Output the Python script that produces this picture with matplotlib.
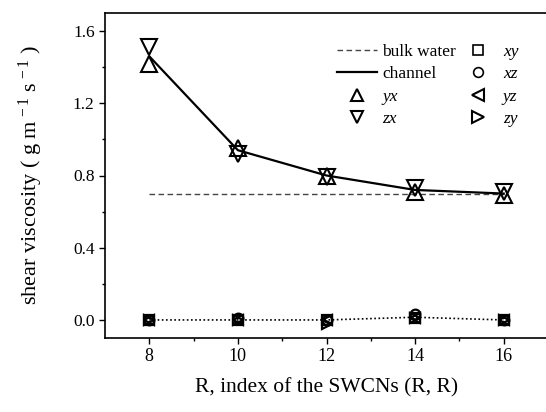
import matplotlib
matplotlib.use("Agg")
import matplotlib.pyplot as plt
from matplotlib.lines import Line2D

plt.rcParams['font.family'] = ['Liberation Serif', 'DejaVu Serif']
plt.rcParams['mathtext.fontset'] = 'custom'
plt.rcParams['mathtext.rm'] = 'Liberation Serif'
plt.rcParams['mathtext.it'] = 'Liberation Serif:italic'

R = [8, 10, 12, 14, 16]
channel = [1.46, 0.94, 0.80, 0.72, 0.70]
bulk_water = [0.70, 0.70, 0.70, 0.70, 0.70]
yx = [1.42, 0.95, 0.80, 0.71, 0.69]
zx = [1.51, 0.92, 0.79, 0.73, 0.71]
xy = [0.00, 0.00, 0.00, 0.01, 0.00]
xz = [0.00, 0.01, 0.00, 0.035, 0.00]
yz = [0.00, 0.00, 0.00, 0.01, 0.00]
zy = [0.00, 0.00, -0.025, 0.01, 0.00]
offdiag_mean = [0.00, 0.00, 0.00, 0.015, 0.00]

fig = plt.figure(figsize=(5.46, 4.12), dpi=100)
ax = fig.add_axes([105/546, 1-338/412, 443/546, 325/412])

ax.plot(R, bulk_water, ls=(0, (4, 2.5)), color='#444444', lw=1.0)
ax.plot(R, channel, ls='-', color='black', lw=1.6)
ax.plot(R, offdiag_mean, ls=(0, (1, 1.5)), color='black', lw=1.2)

big = dict(ls='none', mfc='none', mec='black', mew=1.5, ms=11)
small = dict(ls='none', mfc='none', mec='black', mew=1.6, ms=7)
ax.plot(R, yx, marker='^', **big)
ax.plot(R, zx, marker='v', **big)
ax.plot(R, xy, marker='s', **small)
ax.plot(R, xz, marker='o', **small)
ax.plot(R, yz, marker='<', **small)
ax.plot(R, zy, marker='>', **small)

ax.set_xlim(7, 17)
ax.set_ylim(-0.1, 1.7)
ax.set_xticks([8, 10, 12, 14, 16])
ax.set_xticks([9, 11, 13, 15], minor=True)
ax.set_yticks([0.0, 0.4, 0.8, 1.2, 1.6])
ax.set_yticklabels(['0.0', '0.4', '0.8', '1.2', '1.6'])
ax.set_yticks([0.2, 0.6, 1.0, 1.4], minor=True)
ax.tick_params(which='major', direction='out', length=4, width=1, labelsize=13)
ax.tick_params(axis='y', which='major', labelsize=12.5)
ax.tick_params(which='minor', direction='out', length=2.5, width=1)
for s in ax.spines.values():
    s.set_linewidth(1.2)

ax.set_xlabel('R, index of the SWCNs (R, R)', fontsize=15.5, labelpad=9)
ax.set_ylabel(r'shear viscosity ( g m$^{\mathregular{\,-1}}$ s$^{\mathregular{\,-1}}$ )',
              fontsize=16, labelpad=20)

handles = [
    Line2D([], [], ls=(0, (4, 2.5)), color='#444444', lw=1.0),
    Line2D([], [], ls='-', color='black', lw=1.6),
    Line2D([], [], marker='^', ls='none', mfc='none', mec='black', mew=1.5, ms=8),
    Line2D([], [], marker='v', ls='none', mfc='none', mec='black', mew=1.5, ms=8),
    Line2D([], [], marker='s', ls='none', mfc='none', mec='black', mew=1.2, ms=7),
    Line2D([], [], marker='o', ls='none', mfc='none', mec='black', mew=1.2, ms=7),
    Line2D([], [], marker='<', ls='none', mfc='none', mec='black', mew=1.5, ms=8),
    Line2D([], [], marker='>', ls='none', mfc='none', mec='black', mew=1.5, ms=8),
]
labels = ['bulk water', 'channel', 'yx', 'zx', 'xy', 'xz', 'yz', 'zy']
leg = ax.legend(handles, labels, ncol=2, loc='upper left',
                bbox_to_anchor=((337-105)/443, 1-(44-13)/325),
                frameon=False, fontsize=12.5, handlelength=2.3, handletextpad=0.3,
                labelspacing=0.35, columnspacing=0.1, borderaxespad=0, borderpad=0)
for t in leg.get_texts():
    if t.get_text() in ('yx', 'zx', 'xy', 'xz', 'yz', 'zy'):
        t.set_style('italic')

fig.savefig('out.png', dpi=100)
